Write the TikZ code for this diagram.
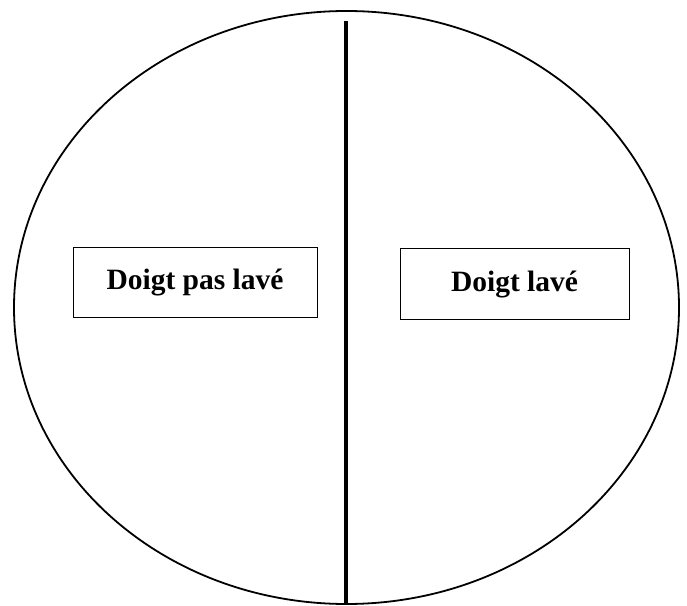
\documentclass[tikz,border=0pt]{standalone}
\usepackage{fontspec}
\setmainfont{Liberation Serif}
\usetikzlibrary{shapes, positioning}

\begin{document}
\begin{tikzpicture}[
                    x=1pt, y=1pt,
                    plate/.style={draw, ellipse, line width=1.8pt, inner sep=0pt, minimum width=665pt, minimum height=593pt},
                    box/.style={draw, line width=1pt, align=center, inner sep=0pt, font=\fontsize{29.5}{34}\selectfont\bfseries},
                    divider/.style={line width=4pt}
                ]
                \useasboundingbox (0,0) rectangle (687,605);

                % --- Petri dish ---
                \node[plate] (dish) at (346.5,297.5) {};

                % --- Separation ---
                \coordinate (cut_top) at (346,584);
                \coordinate (cut_bottom) at (346,0);
                \draw[divider] (cut_top) -- (cut_bottom);

                % --- Labels ---
                \node[box, minimum width=244pt, minimum height=70pt] (unwashed) at (195,322) {Doigt pas lavé};
                \node[box, minimum width=229pt, minimum height=71pt] (washed) at (514.5,320.5) {Doigt lavé};

                \end{tikzpicture}
\end{document}
